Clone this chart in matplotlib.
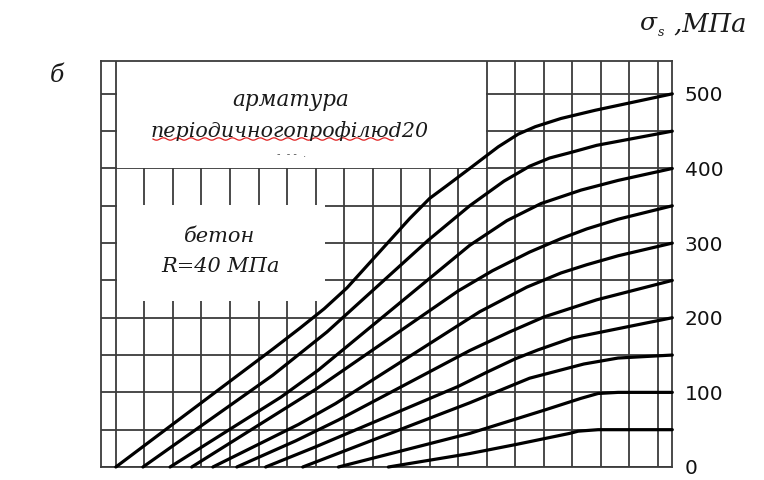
import numpy as np
import matplotlib
matplotlib.use("Agg")
import matplotlib.pyplot as plt
from matplotlib.patches import Rectangle
from matplotlib.lines import Line2D

# Stress in reinforcement vs. position along the bar, one curve per final stress level
x_500 = [0.0, 5.5, 6.45, 7.3, 8.1, 10.3, 11.0, 11.6, 12.4, 13.4, 14.1, 14.7, 15.6, 16.8, 19.5]
s_500 = [0, 158, 186, 212, 240, 333, 360, 377, 400, 429, 446, 456, 467, 478, 500]

x_450 = [0.95, 5.5, 7.4, 10.95, 12.4, 13.6, 14.5, 15.2, 15.9, 16.85, 19.5]
s_450 = [0, 123, 181, 304, 350, 383, 403, 414, 421, 431, 450]

x_400 = [1.9, 5.8, 7.1, 12.4, 13.7, 14.9, 16.3, 17.6, 19.5]
s_400 = [0, 94, 130, 297, 330, 353, 371, 384, 400]

x_350 = [2.66, 7.0, 12.0, 13.2, 14.5, 15.6, 16.5, 17.6, 19.5]
s_350 = [0, 104, 236, 263, 288, 306, 319, 332, 350]

x_300 = [3.4, 6.4, 7.7, 12.75, 14.4, 15.6, 16.5, 17.6, 19.5]
s_300 = [0, 57, 85, 208, 241, 260, 271, 283, 300]

x_250 = [4.24, 6.3, 7.8, 12.4, 13.8, 15.0, 16.85, 19.5]
s_250 = [0, 35, 63, 156, 181, 201, 224, 250]

x_200 = [5.25, 7.0, 12.0, 13.0, 14.0, 14.8, 16.0, 19.5]
s_200 = [0, 27, 108, 127, 145, 157, 173, 200]

x_150 = [6.55, 12.4, 14.5, 16.4, 17.6, 19.5]
s_150 = [0, 86, 119, 138, 146, 150]

x_100 = [7.8, 12.4, 15.0, 16.3, 16.9, 17.6, 19.5]
s_100 = [0, 45, 76, 92, 98.5, 100, 100]

x_50 = [9.55, 12.4, 14.0, 15.9, 16.2, 16.9, 19.5]
s_50 = [0, 18, 30, 45, 48, 50, 50]

curves = [(x_500, s_500), (x_450, s_450), (x_400, s_400), (x_350, s_350),
          (x_300, s_300), (x_250, s_250), (x_200, s_200), (x_150, s_150),
          (x_100, s_100), (x_50, s_50)]

y_labels = [0, 100, 200, 300, 400, 500]

W, H = 764, 480
fig = plt.figure(figsize=(W / 100, H / 100), dpi=100)
fig.patch.set_facecolor("white")


def fp(x, y):
    """Pixel position (from top-left) to figure fraction."""
    return x / W, 1 - y / H


ax = fig.add_axes([101 / W, 13 / H, 571.3 / W, 406 / H])
ax.set_xlim(-0.52, 19.5)
ax.set_ylim(0, 544)

grid_col = "#3c3c3c"
ax.set_xticks(np.arange(0, 20))
ax.set_yticks(y_labels)
ax.set_yticks(np.arange(50, 550, 100), minor=True)
ax.grid(True, which="both", color=grid_col, linewidth=1.3)
ax.set_axisbelow(True)
ax.tick_params(axis="x", length=0, labelbottom=False)
ax.tick_params(axis="y", which="both", length=0, left=False, labelleft=False,
               right=False, labelright=True, pad=9, labelsize=14.5,
               labelcolor="#111111")
for sp in ax.spines.values():
    sp.set_color(grid_col)
    sp.set_linewidth(1.3)

# white panels holding the captions
ax.add_patch(Rectangle((0.04, 401), 12.92, 160, facecolor="white",
                       edgecolor="none", zorder=1))
ax.add_patch(Rectangle((0.04, 222), 7.28, 129, facecolor="white",
                       edgecolor="none", zorder=1))

for xs, ys in curves:
    ax.plot(xs, ys, color="black", linewidth=2.3, solid_joinstyle="round",
            solid_capstyle="round", zorder=3, clip_on=False)

serif_it = dict(family="DejaVu Serif", style="italic", color="#1a1a1a")

fig.text(*fp(291, 100), "арматура", ha="center", va="center", fontsize=15.5,
         **serif_it)
fig.text(*fp(290, 131), "періодичногопрофілюd20", ha="center", va="center",
         fontsize=14.9, **serif_it)
fig.text(*fp(292, 154), "-  - -  .", ha="center", va="center", fontsize=7,
         color="#555555")

# spell-check squiggle under the second caption line
xw = np.linspace(153, 393, 160)
yw = 139 + 1.2 * np.sin((xw - 153) / 2.2)
fig.add_artist(Line2D(xw / W, 1 - yw / H, color="#e02020", linewidth=0.9))

fig.text(*fp(220, 236), "бетон", ha="center", va="center", fontsize=15,
         **serif_it)
fig.text(*fp(221, 266), "R=40 МПа", ha="center", va="center", fontsize=15,
         **serif_it)

fig.text(*fp(57, 75), "б", ha="center", va="center", fontsize=17, **serif_it)

fig.text(*fp(639, 24), "σ", ha="left", va="center", fontsize=18, **serif_it)
fig.text(*fp(658, 33), "s", ha="left", va="center", fontsize=9, **serif_it)
fig.text(*fp(666, 24), " ,МПа", ha="left", va="center", fontsize=18.5,
         **serif_it)

fig.savefig("out.png", dpi=100, facecolor="white")
